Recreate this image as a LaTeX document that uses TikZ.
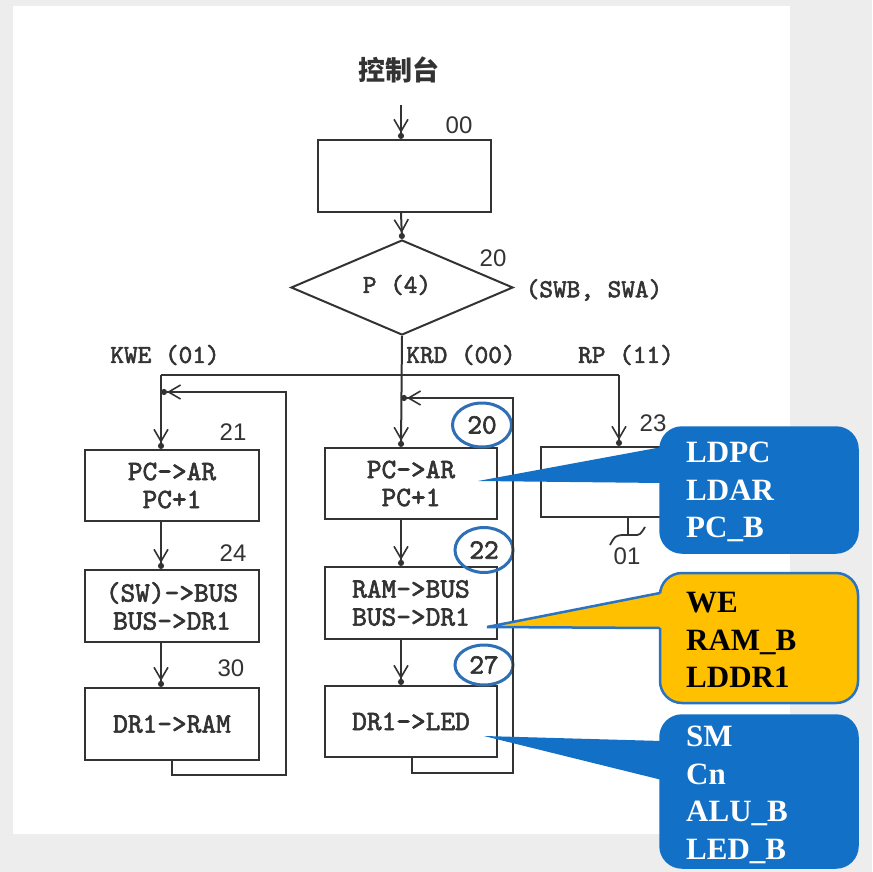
\documentclass[tikz,border=0pt]{standalone}
\usepackage{fontspec}
\setmainfont{Liberation Serif}
\newfontfamily\sansf{Liberation Sans}
\newfontfamily\cjkf{Noto Sans CJK SC}
\newfontfamily\monof{lmmono10-regular.otf}[FakeBold=2.2]
\usetikzlibrary{arrows.meta,shapes.geometric}
\definecolor{ln}{HTML}{333333}
\definecolor{cblue}{HTML}{1270C6}
\definecolor{cyel}{HTML}{FFC000}
\definecolor{cedge}{HTML}{2A72C2}
\definecolor{circ}{HTML}{2E6FB5}
\definecolor{bg}{HTML}{EDEDED}
\tikzset{
  arr/.style={-{Straight Barb[length=12pt,width=14pt,line width=1.6pt]Circle[length=6pt]}},
  ln/.style={draw=ln,line width=2pt},
  box/.style={draw=ln,line width=2.2pt,rectangle,inner sep=0pt,align=center,
    text=ln,font=\monof\fontsize{28}{28}\selectfont},
  mono/.style={text=ln,font=\monof\fontsize{26}{28}\selectfont,inner sep=0pt},
  num/.style={text=ln,font=\sansf\fontsize{24}{24}\selectfont,inner sep=0pt},
  circnum/.style={ellipse,draw=circ,line width=3pt,inner sep=0pt,text=ln,
    font=\monof\fontsize{28}{28}\selectfont},
  ctext/.style={anchor=west,align=left,inner sep=0pt,
    font=\bfseries\fontsize{31}{37.5}\selectfont},
}
\begin{document}
\begin{tikzpicture}[x=1pt,y=-1pt]
\useasboundingbox (0,0) rectangle (872,872);
\fill[bg] (0,0) rectangle (872,872);
\fill[white] (13,6) rectangle (790,834);

% title
\node[text=ln,font=\cjkf\bfseries\fontsize{27}{27}\selectfont,inner sep=0pt] (title) at (399,70) {控制台};
\coordinate (top) at (401,105);

% boxes
\node[box,minimum width=173pt,minimum height=72pt] (b00) at (404.5,176) {};
\node[draw=ln,line width=2pt,diamond,minimum width=222pt,minimum height=95pt,inner sep=0pt] (dia) at (402,287.5) {};
\node[mono] (p4) at (397,285) {P (4)};

\node[box,minimum width=174pt,minimum height=71pt] (b21) at (172,485.5) {PC->AR\\PC+1};
\node[box,minimum width=174pt,minimum height=72pt] (b24) at (172,606) {(SW)->BUS\\BUS->DR1};
\node[box,minimum width=174pt,minimum height=72pt] (b30) at (172,724) {DR1->RAM};

\node[box,minimum width=172pt,minimum height=71pt] (b20) at (411,483.5) {PC->AR\\PC+1};
\node[box,minimum width=172pt,minimum height=72pt] (b22) at (411,603) {RAM->BUS\\BUS->DR1};
\node[box,minimum width=172pt,minimum height=71pt] (b27) at (411,721.5) {DR1->LED};

\node[box,minimum width=159pt,minimum height=70pt] (b23) at (620.5,482) {};

% labels
\node[num] (n00) at (459,125) {00};
\node[num] (n20) at (493,258) {20};
\node[mono] (swab) at (594,290) {(SWB, SWA)};
\node[mono] (kwe) at (165,355) {KWE (01)};
\node[mono] (krd) at (461,355) {KRD (00)};
\node[mono] (rp) at (626,355) {RP (11)};
\node[num] (n21) at (233,432) {21};
\node[num] (n24) at (233,553) {24};
\node[num] (n30) at (231,668) {30};
\node[num] (n23) at (653,423) {23};
\node[num] (n01) at (627,556) {01};

\node[circnum,minimum width=59pt,minimum height=44pt] (c20) at (482,425) {20};
\node[circnum,minimum width=58pt,minimum height=45pt] (c22) at (484,550) {22};
\node[circnum,minimum width=58pt,minimum height=40pt] (c27) at (484,665) {27};

% connectors
\coordinate (hl) at (161,375);
\coordinate (hr) at (619,375);
\coordinate (mid) at (401,375);
\draw[ln,arr] (top) -- (b00.north -| top);
\draw[ln,arr] (b00.south -| top) -- (dia.north);
\draw[ln,arr] (dia.south) -- (b20.north -| mid);
\draw[ln] (hl) -- (hr);
\draw[ln,arr] (hl) -- (b21.north -| hl);
\draw[ln,arr] (hr) -- (b23.north -| hr);
\draw[ln,arr] (b21.south -| hl) -- (b24.north -| hl);
\draw[ln,arr] (b24.south -| hl) -- (b30.north -| hl);
\draw[ln,arr] (b20.south -| mid) -- (b22.north -| mid);
\draw[ln,arr] (b22.south -| mid) -- (b27.north -| mid);

\coordinate (l1) at (172,775);
\coordinate (l2) at (286,775);
\coordinate (l3) at (286,392);
\draw[ln,arr] (b30.south -| l1) -- (l1) -- (l2) -- (l3) -- (l3 -| hl);
\coordinate (m1) at (412,773);
\coordinate (m2) at (513,773);
\coordinate (m3) at (513,398);
\draw[ln,arr] (b27.south -| m1) -- (m1) -- (m2) -- (m3) -- (m3 -| mid);

\coordinate (g0) at (628,535);
\coordinate (g1) at (610,545);
\coordinate (g2) at (645,527);
\draw[ln] (b23.south -| g0) -- (g0);
\draw[ln,line width=1.8pt] (g1) .. controls (615,536) .. (622,535) -- (634,535) .. controls (640,535) .. (g2);

% callouts
\coordinate (k1) at (478,481);
\coordinate (k2) at (487,627);
\coordinate (k3) at (484,736);

\node[fill=cblue,draw=cblue,line width=1.5pt,rounded corners=22pt,minimum width=198pt,minimum height=126pt,inner sep=0pt] (cb1) at (759,490) {};
\fill[cblue] (662,447) -- (k1) -- (662,483) -- cycle;

\node[fill=cyel,draw=cedge,line width=2.5pt,rounded corners=22pt,minimum width=198pt,minimum height=130pt,inner sep=0pt] (cy) at (759,638) {};
\fill[cyel] (663,593) -- (k2) -- (663,628) -- cycle;
\draw[cedge,line width=2.5pt] (660,593) -- (k2) -- (660,628);

\node[fill=cblue,draw=cblue,line width=1.5pt,rounded corners=22pt,minimum width=198pt,minimum height=153pt,inner sep=0pt] (cb3) at (759,791.5) {};
\fill[cblue] (662,741) -- (k3) -- (662,780) -- cycle;

\node[ctext,text=white] (t1) at (686,492) {LDPC\\LDAR\\PC\_B};
\node[ctext,text=black] (t2) at (686,640) {WE\\RAM\_B\\LDDR1};
\node[ctext,text=white] (t3) at (686,795) {SM\\Cn\\ALU\_B\\LED\_B};
\end{tikzpicture}
\end{document}
